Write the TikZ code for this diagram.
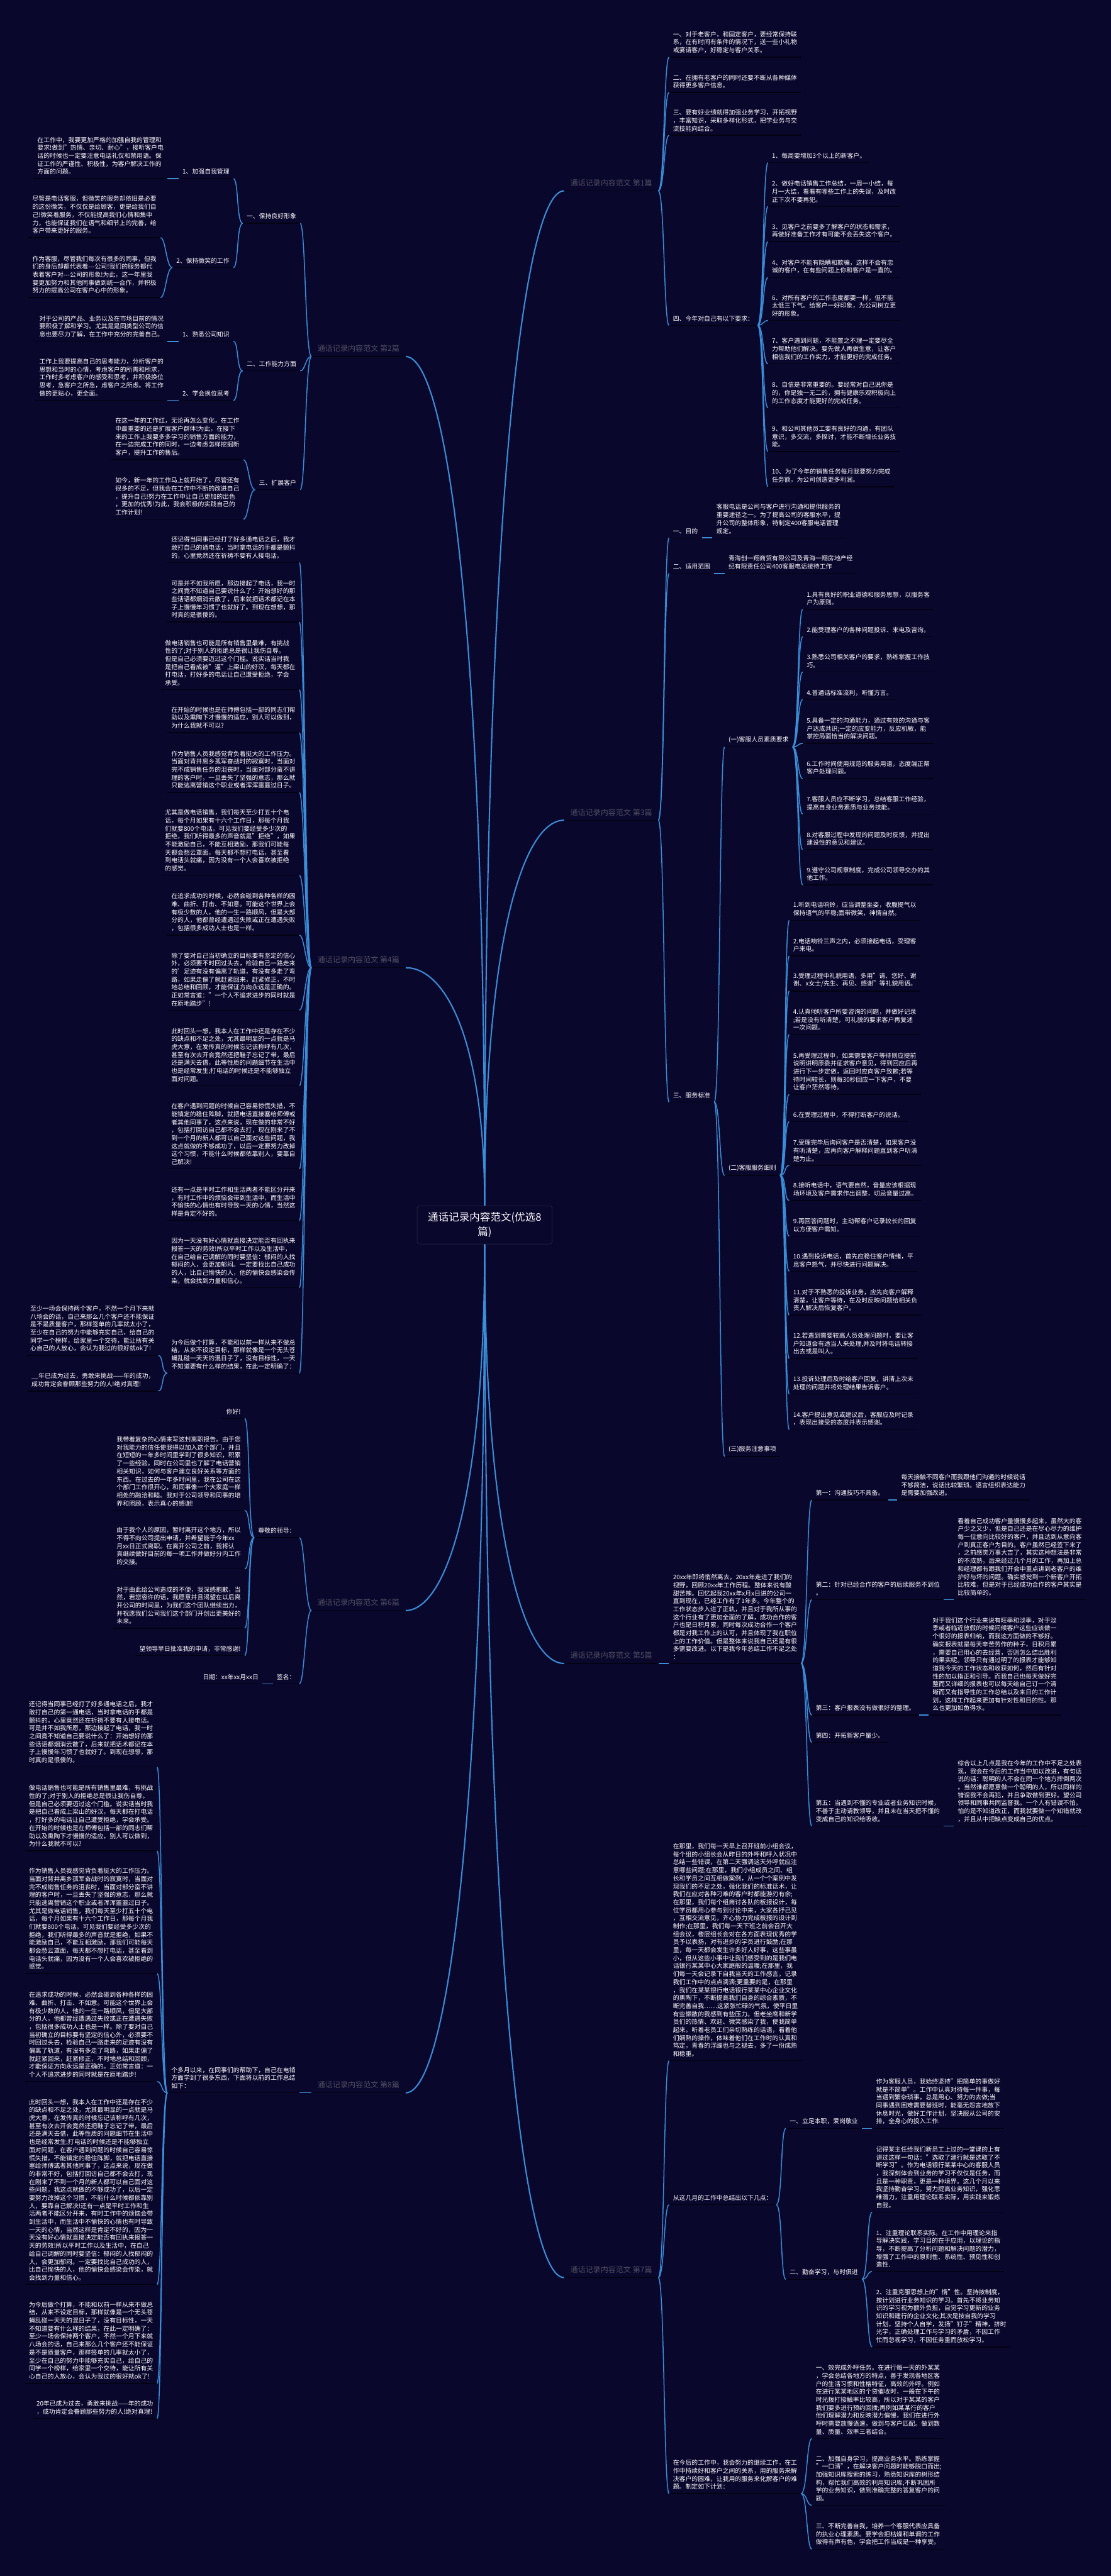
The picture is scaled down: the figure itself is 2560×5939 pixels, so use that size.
\documentclass[tikz,border=0pt]{standalone}
\usepackage{fontspec}
\setmainfont{Noto Sans CJK SC}
\usetikzlibrary{calc}
\definecolor{bgc}{RGB}{10,7,45}
\definecolor{linkblue}{RGB}{58,142,216}
\definecolor{ulinec}{RGB}{2,2,16}
\definecolor{branchgray}{RGB}{78,78,95}
\definecolor{rootline}{RGB}{30,28,62}
\tikzset{
    uline/.style={draw=ulinec, line width=2pt},  % 文字下方的深色横线
    leaf/.style={
        anchor=south west,        % 以下划线左端定位
        inner xsep=9pt,
        inner ysep=9pt,
        align=left,
        text=white,
        font=\fontsize{14.3pt}{18.4pt}\selectfont,
        append after command={(\tikzlastnode.south west) edge[uline] (\tikzlastnode.south east)}
    },
    leafl/.style={leaf, anchor=south east},  % 左侧分支：以下划线右端定位
    branch/.style={
        anchor=south west,
        minimum width=217pt,
        inner ysep=10pt,
        text=branchgray,          % 篇名为暗灰色
        font=\fontsize{17.5pt}{20pt}\selectfont,
        append after command={(\tikzlastnode.south west) edge[uline] (\tikzlastnode.south east)}
    },
    branchl/.style={branch, anchor=south east},
    rootbox/.style={
        rectangle,
        rounded corners=5pt,
        draw=rootline,
        line width=1.5pt,
        fill=bgc,
        minimum width=311pt,
        minimum height=88pt,
        align=center,
        text=white,
        font=\fontsize{24pt}{33pt}\selectfont
    }
}
\begin{document}
\begin{tikzpicture}[
    x=1pt, y=-1pt,
    link/.style={draw=linkblue, line width=2.2pt},
    trunk/.style={draw=linkblue, line width=3pt,
        to path={let \p1=(\tikztostart), \p2=(\tikztotarget) in
            .. controls (\x1,{\y2+0.3*(\y1-\y2)}) and ({\x1+0.5*(\x2-\x1)},\y2) .. (\tikztotarget)}},
    rbr/.style={to path={.. controls ($(\tikztostart)+(14,0)$) and ($(\tikztotarget)+(-12,0)$) .. (\tikztotarget)}},
    lbr/.style={to path={.. controls ($(\tikztostart)+(-14,0)$) and ($(\tikztotarget)+(12,0)$) .. (\tikztotarget)}}
  ]
\fill[bgc] (0,0) rectangle (2560,5939);
\useasboundingbox (0,0) rectangle (2560,5939);

\node[rootbox] (title) at (1117,2824) {通话记录内容范文(优选8\\篇)};

% 右侧
\node[branch] (pian1) at (1300,440) {通话记录内容范文 第1篇};
\node[branch] (pian3) at (1300,1891) {通话记录内容范文 第3篇};
\node[branch] (pian5) at (1300,3835) {通话记录内容范文 第5篇};
\node[branch] (pian7) at (1300,5251) {通话记录内容范文 第7篇};
% 左侧
\node[branchl] (pian2) at (935,822) {通话记录内容范文 第2篇};
\node[branchl] (pian4) at (935,2231) {通话记录内容范文 第4篇};
\node[branchl] (pian6) at (935,3713) {通话记录内容范文 第6篇};
\node[branchl] (pian8) at (935,4825) {通话记录内容范文 第8篇};

% 第1篇
\node[leaf] (a1) at (1542,132) {一、对于老客户，和固定客户，要经常保持联\\系，在有时间有条件的情况下，送一些小礼物\\或宴请客户，好稳定与客户关系。};
\node[leaf] (a2) at (1542,213) {二、在拥有老客户的同时还要不断从各种媒体\\获得更多客户信息。};
\node[leaf] (a3) at (1542,312) {三、要有好业绩就得加强业务学习，开拓视野\\，丰富知识，采取多样化形式，把学业务与交\\流技能向结合。};
\node[leaf] (a4) at (1542,750) {四、今年对自己有以下要求：};
\node[leaf] (b1) at (1770,375) {1、每周要增加3个以上的新客户。};
\node[leaf] (b2) at (1770,476) {2、做好电话销售工作总结，一周一小结，每\\月一大结，看看有哪些工作上的失误，及时改\\正下次不要再犯。};
\node[leaf] (b3) at (1770,557) {3、见客户之前要多了解客户的状态和需求，\\再做好准备工作才有可能不会丢失这个客户。};
\node[leaf] (b4) at (1770,640) {4、对客户不能有隐瞒和欺骗，这样不会有忠\\诚的客户，在有些问题上你和客户是一直的。};
\node[leaf] (b5) at (1770,739) {6、对所有客户的工作态度都要一样，但不能\\太低三下气。给客户一好印象，为公司树立更\\好的形象。};
\node[leaf] (b6) at (1770,839) {7、客户遇到问题，不能置之不理一定要尽全\\力帮助他们解决。要先做人再做生意，让客户\\相信我们的工作实力，才能更好的完成任务。};
\node[leaf] (b7) at (1770,940) {8、自信是非常重要的。要经常对自己说你是\\的，你是独一无二的，拥有健康乐观积极向上\\的工作态度才能更好的完成任务。};
\node[leaf] (b8) at (1770,1041) {9、和公司其他员工要有良好的沟通，有团队\\意识，多交流，多探讨，才能不断增长业务技\\能。};
\node[leaf] (b9) at (1770,1122) {10、为了今年的销售任务每月我要努力完成\\任务额，为公司创造更多利润。};

% 第3篇
\node[leaf] (c1) at (1542,1240) {一、目的};
\node[leaf] (c1a) at (1642,1240) {客服电话是公司与客户进行沟通和提供服务的\\重要途径之一。为了提高公司的客服水平，提\\升公司的整体形象，特制定400客服电话管理\\规定。};
\node[leaf] (c2) at (1542,1322) {二、适用范围};
\node[leaf] (c2a) at (1670,1322) {青海创一翔商贸有限公司及青海一翔房地产经\\纪有限责任公司400客服电话接待工作};
\node[leaf] (c3) at (1542,2541) {三、服务标准};
\node[leaf] (d1) at (1670,1722) {(一)客服人员素质要求};
\node[leaf] (d2) at (1670,2710) {(二)客服服务细则};
\node[leaf] (d3) at (1670,3358) {(三)服务注意事项};
\node[leaf] (e1) at (1850,1405) {1.具有良好的职业道德和服务思想，以服务客\\户为原则。};
\node[leaf] (e2) at (1850,1468) {2.能受理客户的各种问题投诉、来电及咨询。};
\node[leaf] (e3) at (1850,1549) {3.熟悉公司相关客户的要求，熟练掌握工作技\\巧。};
\node[leaf] (e4) at (1850,1613) {4.普通话标准流利，听懂方言。};
\node[leaf] (e5) at (1850,1714) {5.具备一定的沟通能力，通过有效的沟通与客\\户达成共识;一定的应变能力，反应机敏，能\\掌控局面恰当的解决问题。};
\node[leaf] (e6) at (1850,1795) {6.工作时间使用规范的服务用语，态度端正帮\\客户处理问题。};
\node[leaf] (e7) at (1850,1877) {7.客服人员应不断学习，总结客服工作经验，\\提高自身业务素质与业务技能。};
\node[leaf] (e8) at (1850,1959) {8.对客服过程中发现的问题及时反馈，并提出\\建设性的意见和建议。};
\node[leaf] (e9) at (1850,2040) {9.遵守公司规章制度，完成公司领导交办的其\\他工作。};
\node[leaf] (f1) at (1819,2122) {1.听到电话响铃，应当调整坐姿，收腹提气以\\保持语气的平稳;面带微笑，神情自然。};
\node[leaf] (f2) at (1819,2204) {2.电话响铃三声之内，必须接起电话，受理客\\户来电。};
\node[leaf] (f3) at (1819,2285) {3.受理过程中礼貌用语，多用"请、您好、谢\\谢、x女士/先生、再见、感谢"等礼貌用语。};
\node[leaf] (f4) at (1819,2385) {4.认真倾听客户所要咨询的问题，并做好记录\\;若是没有听清楚，可礼貌的要求客户再复述\\一次问题。};
\node[leaf] (f5) at (1819,2523) {5.再受理过程中，如果需要客户等待则应提前\\说明讲明原委并征求客户意见，得到回应后再\\进行下一步定做，返回时应向客户致歉;若等\\待时间较长，则每30秒回应一下客户，不要\\让客户茫然等待。};
\node[leaf] (f6) at (1819,2586) {6.在受理过程中，不得打断客户的说话。};
\node[leaf] (f7) at (1819,2687) {7.受理完毕后询问客户是否清楚，如果客户没\\有听清楚，应再向客户解释问题直到客户听清\\楚为止。};
\node[leaf] (f8) at (1819,2768) {8.接听电话中，语气要自然，音量应该根据现\\场环境及客户需求作出调整，切忌音量过高。};
\node[leaf] (f9) at (1819,2850) {9.再回答问题时，主动帮客户记录较长的回复\\以方便客户需知。};
\node[leaf] (f10) at (1819,2931) {10.遇到投诉电话，首先应稳住客户情绪，平\\息客户怒气，并尽快进行问题解决。};
\node[leaf] (f11) at (1819,3032) {11.对于不熟悉的投诉业务，应先向客户解释\\清楚，让客户等待，在及时反映问题给相关负\\责人解决后恢复客户。};
\node[leaf] (f12) at (1819,3132) {12.若遇到需要较高人员处理问题时，要让客\\户知道会有适当人来处理,并及时将电话转接\\出去或是叫人。};
\node[leaf] (f13) at (1819,3214) {13.投诉处理后及时给客户回复，讲清上次未\\处理的问题并将处理结果告诉客户。};
\node[leaf] (f14) at (1819,3296) {14.客户提出意见或建议后，客服应及时记录\\，表现出接受的态度并表示感谢。};

% 第5篇
\node[leaf] (g) at (1542,3835) {20xx年即将悄然离去，20xx年走进了我们的\\视野，回顾20xx年工作历程。整体来说有酸\\甜苦辣。回忆起我20xx年x月x日进的公司一\\直到现在，已经工作有了1年多。今年整个的\\工作状态步入进了正轨，并且对于我所从事的\\这个行业有了更加全面的了解，成功合作的客\\户也是日积月累，同时每次成功合作一个客户\\都是对我工作上的认可，并且体现了我在职位\\上的工作价值。但是整体来说我自己还是有很\\多需要改进。以下是我今年总结工作不足之处\\：};
\node[leaf] (h1) at (1871,3458) {第一：沟通技巧不具备。};
\node[leaf] (h1a) at (2068,3458) {每天接触不同客户而我跟他们沟通的时候说话\\不够简洁，说话比较繁琐。语言组织表达能力\\是需要加强改进。};
\node[leaf] (h2) at (1871,3688) {第二：针对已经合作的客户的后续服务不到位\\。};
\node[leaf] (h2a) at (2198,3688) {看着自己成功客户量慢慢多起来，虽然大的客\\户少之又少，但是自己还是在尽心尽力的维护\\每一位意向比较好的客户，并且达到从意向客\\户到真正客户为目的。客户虽然已经签下来了\\，之前感觉万事大吉了，其实这种想法是非常\\的不成熟，后来经过几个月的工作，再加上总\\和经理都有跟我们开会中重点讲到老客户的维\\护好与坏的问题。确实感觉到一个新客户开拓\\比较难，但是对于已经成功合作的客户其实是\\比较简单的。};
\node[leaf] (h3) at (1871,3954) {第三：客户报表没有做很好的整理。};
\node[leaf] (h3a) at (2140,3954) {对于我们这个行业来说有旺季和淡季，对于淡\\季或者临近放假的时候问候客户这些应该做一\\个很好的报表归纳，而我这方面做的不够好。\\确实报表就是每天辛苦劳作的种子，日积月累\\，需要自己用心的去经营，否则怎么结出胜利\\的果实呢。领导只有通过明了的报表才能够知\\道我今天的工作状态和收获如何，然后有针对\\性的加以指正和引导。而我自己也每天做好完\\整而又详细的报表也可以每天给自己订一个清\\晰而又有指导性的工作总结以及来日的工作计\\划，这样工作起来更加有针对性和目的性。那\\么也更加如鱼得水。};
\node[leaf] (h4) at (1871,4017) {第四：开拓新客户量少。};
\node[leaf] (h5) at (1871,4210) {第五：当遇到不懂的专业或者业务知识时候，\\不善于主动请教领导，并且未在当天把不懂的\\变成自己的知识给吸收。};
\node[leaf] (h5a) at (2198,4210) {综合以上几点是我在今年的工作中不足之处表\\现，我会在今后的工作当中加以改进，有句话\\说的话：聪明的人不会在同一个地方摔倒两次\\。当然谁都愿意做一个聪明的人，所以同样的\\错误我不会再犯，并且争取做到更好。望公司\\领导和同事共同监督我。一个人有错误不怕，\\怕的是不知道改正，而我就要做一个知错就改\\，并且从中把缺点变成自己的优点。};

% 第7篇
\node[leaf] (k1) at (1542,4751) {在那里，我们每一天早上召开班前小组会议，\\每个组的小组长会从昨日的外呼和呼入状况中\\总结一些错误，在第二天强调这天外呼就应注\\意哪些问题;在那里，我们小组成员之间、组\\长和学员之间互相做案例，从一个个案例中发\\现我们的不足之处，强化我们的标准话术，让\\我们在应对各种刁难的客户时都能游刃有余;\\在那里，我们每个组商讨各队的板报设计，每\\位学员都用心参与到讨论中来，大家各抒己见\\，互相交流意见，齐心协力完成板报的设计到\\制作;在那里，我们每一天下班之前会召开大\\组会议，楼层组长会对在各方面表现优秀的学\\员予以表扬，对有进步的学员进行鼓励;在那\\里，每一天都会发生许多好人好事，这些事虽\\小，但从这些小事中让我们感受到的是我们电\\话银行某某中心大家庭般的温暖;在那里，我\\们每一天会记录下自我当天的工作感言，记录\\我们工作中的点点滴滴;更重要的是，在那里\\，我们在某某银行电话银行某某中心企业文化\\的熏陶下，不断提高我们自身的综合素质，不\\断完善自我……这紧张忙碌的气氛，使平日里\\有些懒散的我感到有些压力。但老坐席和新学\\员们的热情、欢迎、微笑感染了我，使我简单\\起来。听着老员工们亲切熟练的话语，看着他\\们娴熟的操作，体味着他们在工作时的认真和\\笃定，青春的浮躁也与之褪去，多了一份成熟\\和稳重。};
\node[leaf] (k2) at (1542,5083) {从这几月的工作中总结出以下几点：};
\node[leaf] (m1) at (1811,4907) {一、立足本职，爱岗敬业};
\node[leaf] (m1a) at (2010,4907) {作为客服人员，我始终坚持"把简单的事做好\\就是不简单"。工作中认真对待每一件事，每\\当遇到繁杂琐事，总是用心、努力的去做;当\\同事遇到困难需要替班时，能毫无怨言地放下\\休息时光，做好工作计划，坚决服从公司的安\\排，全身心的投入工作.};
\node[leaf] (m2) at (1811,5255) {二、勤奋学习，与时俱进};
\node[leaf] (n1) at (2010,5100) {记得某主任给我们新员工上过的一堂课的上有\\讲过这样一句话："选取了建行就是选取了不\\断学习"。作为电话银行某某中心的客服人员\\，我深刻体会到业务的学习不仅仅是任务，而\\且是一种职责，更是一种境界。这几个月以来\\我坚持勤奋学习，努力提高业务知识，强化思\\维潜力，注重用理论联系实际，用实践来锻炼\\自我。};
\node[leaf] (n2) at (2010,5237) {1、注重理论联系实际。在工作中用理论来指\\导解决实践，学习目的在于应用，以理论的指\\导，不断提高了分析问题和解决问题的潜力，\\增强了工作中的原则性、系统性、预见性和创\\造性.};
\node[leaf] (n3) at (2010,5411) {2、注重克服思想上的"惰"性。坚持按制度，\\按计划进行业务知识的学习。首先不将业务知\\识的学习视为额外负担，自觉学习更新的业务\\知识和建行的企业文化;其次是按自我的学习\\计划，坚持个人自学，发扬"钉子"精神，挤时\\光学，正确处理工作与学习的矛盾，不因工作\\忙而忽视学习，不因任务重而放松学习。};
\node[leaf] (k3) at (1542,5749) {在今后的工作中，我会努力的继续工作，在工\\作中持续好和客户之间的关系，用的服务来解\\决客户的困难，让我用的服务来化解客户的难\\题。制定如下计划：};
\node[leaf] (p1) at (1871,5622) {一、效完成外呼任务。在进行每一天的外某某\\，学会总结各地方的特点，善于发现各地区客\\户的生活习惯和性格特征，高效的外呼。例如\\在进行某某地区的个贷催收时，一般在下午的\\时光拨打接触率比较高，所以对于某某的客户\\我们要多进行预约回拨;再例如某某行的客户\\他们理解潜力和反映潜力偏慢，我们在进行外\\呼时需要放慢语速，做到与客户匹配。做到数\\量、质量、效率三者结合。};
\node[leaf] (p2) at (1871,5776) {二、加强自身学习，提高业务水平。熟练掌握\\"一口清"，在解决客户问题时能够脱口而出;\\加强知识库搜索的练习，熟悉知识库的树形结\\构，帮忙我们高效的利用知识库;不断巩固所\\学的业务知识，做到准确完整的答复客户的问\\题。};
\node[leaf] (p3) at (1871,5877) {三、不断完善自我，培养一个客服代表应具备\\的执业心理素质。要学会把枯燥和单调的工作\\做得有声有色，学会把工作当成是一种享受。};

% 第2篇
\node[leafl] (q1) at (692,515) {一、保持良好形象};
\node[leafl] (r1) at (538,412) {1、加强自我管理};
\node[leafl] (r1a) at (386,412) {在工作中，我要更加严格的加强自我的管理和\\要求!做到"热情、亲切、耐心"，接听客户电\\话的时候也一定要注意电话礼仪和禁用语。保\\证工作的严谨性、积极性，为客户解决工作的\\方面的问题。};
\node[leafl] (r2) at (538,617) {2、保持微笑的工作};
\node[leafl] (s1) at (370,548) {尽管是电话客服，但微笑的服务却依旧是必要\\的这份微笑，不仅仅是给顾客，更是给我们自\\己!微笑着服务，不仅能提高我们心情和集中\\力，也能保证我们在语气和细节上的完善，给\\客户带来更好的服务。};
\node[leafl] (s2) at (370,686) {作为客服，尽管我们每次有很多的同事，但我\\们的身后却都代表着-{}-{}-公司!我们的服务都代\\表着客户对-{}-{}-公司的形象!为此，这一年里我\\要更加努力和其他同事做到统一合作，并积极\\努力的提高公司在客户心中的形象。};
\node[leafl] (q2) at (692,855) {二、工作能力方面};
\node[leafl] (t1) at (538,787) {1、熟悉公司知识};
\node[leafl] (t1a) at (386,787) {对于公司的产品、业务以及在市场目前的情况\\要积极了解和学习。尤其是是同类型公司的信\\息也要尽力了解，在工作中充分的完善自己。};
\node[leafl] (t2) at (538,923) {2、学会换位思考};
\node[leafl] (t2a) at (386,923) {工作上我要提高自己的思考能力，分析客户的\\思想和当时的心情，考虑客户的所需和所求，\\工作时多考虑客户的感受和思考，并积极换位\\思考，急客户之所急，虑客户之所虑。将工作\\做的更贴心，更全面。};
\node[leafl] (q3) at (692,1129) {三、扩展客户};
\node[leafl] (u1) at (561,1060) {在这一年的工作红，无论再怎么变化，在工作\\中最重要的还是扩展客户群体!为此，在接下\\来的工作上我要多多学习的销售方面的能力，\\在一边完成工作的同时，一边考虑怎样挖掘新\\客户，提升工作的售后。};
\node[leafl] (u2) at (561,1197) {如今，新一年的工作马上就开始了，尽管还有\\很多的不足，但我会在工作中不断的改进自己\\，提升自己!努力在工作中让自己更加的出色\\，更加的优秀!为此，我会积极的实践自己的\\工作计划!};

% 第4篇
\node[leafl] (v1) at (690,1297) {还记得当同事已经打了好多通电话之后，我才\\敢打自己的通电话，当时拿电话的手都是颤抖\\的，心里竟然还在祈祷不要有人接电话。};
\node[leafl] (v2) at (690,1434) {可是并不如我所愿，那边接起了电话，我一时\\之间竟不知道自己要说什么了：开始想好的那\\些话语都烟消云散了，后来就把话术都记在本\\子上慢慢年习惯了也就好了。到现在想想，那\\时真的是很傻的。};
\node[leafl] (v3) at (690,1590) {做电话销售也可能是所有销售里最难，有挑战\\性的了;对于别人的拒绝总是很让我伤自尊。\\但是自己必须要迈过这个门槛。说实话当时我\\是把自己看成被"逼"上梁山的好汉，每天都在\\打电话，打好多的电话让自己遭受拒绝，学会\\承受。};
\node[leafl] (v4) at (690,1689) {在开始的时候也是在师傅包括一部的同志们帮\\助以及熏陶下才慢慢的适应，别人可以做到，\\为什么我就不可以?};
\node[leafl] (v5) at (690,1827) {作为销售人员我感觉背负着挺大的工作压力。\\当面对背井离乡孤军奋战时的寂寞时，当面对\\完不成销售任务的沮丧时，当面对部分蛮不讲\\理的客户时，一旦丢失了坚强的意志，那么就\\只能逃离营销这个职业或者浑浑噩噩过日子。};
\node[leafl] (v6) at (690,2018) {尤其是做电话销售，我们每天至少打五十个电\\话，每个月如果有十六个工作日，那每个月我\\们就要800个电话。可见我们要经受多少次的\\拒绝，我们听得最多的声音就是"拒绝"，如果\\不能激励自己，不能互相激励，那我们可能每\\天都会愁云罩面，每天都不想打电话，甚至看\\到电话头就痛，因为没有一个人会喜欢被拒绝\\的感觉。};
\node[leafl] (v7) at (690,2156) {在追求成功的时候，必然会碰到各种各样的困\\难、曲折、打击、不如意。可能这个世界上会\\有极少数的人，他的一生一路顺风，但是大部\\分的人，他都曾经遭遇过失败或正在遭遇失败\\，包括很多成功人士也是一样。};
\node[leafl] (v8) at (690,2329) {除了要对自己当初确立的目标要有坚定的信心\\外，必须要不时回过头去，检验自己一路走来\\的'足迹有没有偏离了轨道，有没有多走了弯\\路，如果走偏了就赶紧回来，赶紧修正，不时\\地总结和回顾，才能保证方向永远是正确的。\\正如常言道："一个人不追求进步的同时就是\\在原地踏步"!};
\node[leafl] (v9) at (690,2503) {此时回头一想，我本人在工作中还是存在不少\\的缺点和不足之处，尤其最明显的一点就是马\\虎大意，在发传真的时候忘记该称呼有几次，\\甚至有次去开会竟然还把鞋子忘记了带，最后\\还是满天去借，此等性质的问题细节在生活中\\也是经常发生;打电话的时候还是不能够独立\\面对问题。};
\node[leafl] (v10) at (690,2695) {在客户遇到问题的时候自己容易惊慌失措，不\\能镇定的稳住阵脚，就把电话直接塞给师傅或\\者其他同事了，这点来说，现在做的非常不好\\，包括打回访自己都不会去打，现在刚来了不\\到一个月的新人都可以自己面对这些问题，我\\这点就做的不够成功了，以后一定要努力改掉\\这个习惯，不能什么时候都依靠别人，要靠自\\己解决!};
\node[leafl] (v11) at (690,2814) {还有一点是平时工作和生活两者不能区分开来\\，有时工作中的烦恼会带到生活中，而生活中\\不愉快的心情也有时导致一天的心情，当然这\\样是肯定不好的。};
\node[leafl] (v12) at (690,2969) {因为一天没有好心情就直接决定能否有回执来\\报答一天的劳效!所以平时工作以及生活中，\\在自己给自己调解的同时要坚信：郁闷的人找\\郁闷的人，会更加郁闷。一定要找比自己成功\\的人，比自己愉快的人，他的愉快会感染会传\\染，就会找到力量和信心。};
\node[leafl] (v13) at (690,3166) {为今后做个打算，不能和以前一样从来不做总\\结，从来不设定目标，那样就像是一个无头苍\\蝇乱碰一天天的混日子了，没有目标性，一天\\不知道要有什么样的结果，在此一定明确了：};
\node[leafl] (w1) at (365,3125) {至少一场会保持两个客户，不然一个月下来就\\八场会的话，自己来那么几个客户还不能保证\\是不是质量客户，那样签单的几率就太小了，\\至少在自己的努力中能够充实自己，给自己的\\同学一个榜样，给家里一个交待，能让所有关\\心自己的人放心，会认为我过的很好就ok了!};
\node[leafl] (w2) at (365,3207) {\_\_年已成为过去，勇敢来挑战——年的成功，\\成功肯定会眷顾那些努力的人!绝对真理!};

% 第6篇
\node[leafl] (x1) at (690,3545) {尊敬的领导：};
\node[leafl] (y1) at (564,3270) {你好!};
\node[leafl] (y2) at (564,3482) {我带着复杂的心情来写这封离职报告。由于您\\对我能力的信任使我得以加入这个部门，并且\\在短短的一年多时间里学到了很多知识，积累\\了一些经验。同时在公司里也了解了电话营销\\相关知识，如何与客户建立良好关系等方面的\\东西。在过去的一年多时间里，我在公司在这\\个部门工作很开心，和同事像一个大家庭一样\\相处的融洽和睦。我对于公司领导和同事的培\\养和照顾，表示真心的感谢!};
\node[leafl] (y3) at (564,3617) {由于我个人的原因，暂时离开这个地方，所以\\不得不向公司提出申请，并希望能于今年xx\\月xx日正式离职。在离开公司之前，我将认\\真继续做好目前的每一项工作并做好分内工作\\的交接。};
\node[leafl] (y4) at (564,3754) {对于由此给公司造成的不便，我深感抱歉，当\\然，若您容许的话，我愿意并且渴望在以后离\\开公司的时间里，为我们这个团队继续出力，\\并祝愿我们公司我们这个部门开创出更美好的\\未来。};
\node[leafl] (y5) at (564,3817) {望领导早日批准我的申请，非常感谢!};
\node[leafl] (x2) at (690,3882) {签名：};
\node[leafl] (x2a) at (605,3882) {日期：xx年xx月xx日};

% 第8篇
\node[leafl] (z) at (690,4825) {个多月以来，在同事们的帮助下，自己在电销\\方面学到了很多东西，下面将以前的工作总结\\如下：};
\node[leafl] (z1) at (362,4074) {还记得当同事已经打了好多通电话之后，我才\\敢打自己的第一通电话，当时拿电话的手都是\\颤抖的，心里竟然还在祈祷不要有人接电话。\\可是并不如我所愿，那边接起了电话，我一时\\之间竟不知道自己要说什么了：开始想好的那\\些话语都烟消云散了，后来就把话术都记在本\\子上慢慢年习惯了也就好了。到现在想想，那\\时真的是很傻的。};
\node[leafl] (z2) at (362,4267) {做电话销售也可能是所有销售里最难，有挑战\\性的了;对于别人的拒绝总是很让我伤自尊。\\但是自己必须要迈过这个门槛。说实话当时我\\是把自己看成上梁山的好汉，每天都在打电话\\，打好多的电话让自己遭受拒绝，学会承受。\\在开始的时候也是在师傅包括一部的同志们帮\\助以及熏陶下才慢慢的适应，别人可以做到，\\为什么我就不可以?};
\node[leafl] (z3) at (362,4550) {作为销售人员我感觉背负着挺大的工作压力。\\当面对背井离乡孤军奋战时的寂寞时，当面对\\完不成销售任务的沮丧时，当面对部分蛮不讲\\理的客户时，一旦丢失了坚强的意志，那么就\\只能逃离营销这个职业或者浑浑噩噩过日子。\\尤其是做电话销售，我们每天至少打五十个电\\话，每个月如果有十六个工作日，那每个月我\\们就要800个电话。可见我们要经受多少次的\\拒绝，我们听得最多的声音就是拒绝，如果不\\能激励自己，不能互相激励，那我们可能每天\\都会愁云罩面，每天都不想打电话，甚至看到\\电话头就痛，因为没有一个人会喜欢被拒绝的\\感觉。};
\node[leafl] (z4) at (362,4799) {在追求成功的时候，必然会碰到各种各样的困\\难、曲折、打击、不如意。可能这个世界上会\\有极少数的人，他的一生一路顺风，但是大部\\分的人，他都曾经遭遇过失败或正在遭遇失败\\，包括很多成功人士也是一样。除了要对自己\\当初确立的目标要有坚定的信心外，必须要不\\时回过头去，检验自己一路走来的足迹有没有\\偏离了轨道，有没有多走了弯路，如果走偏了\\就赶紧回来，赶紧修正，不时地总结和回顾，\\才能保证方向永远是正确的。正如常言道：一\\个人不追求进步的同时就是在原地踏步!};
\node[leafl] (z5) at (362,5267) {此时回头一想，我本人在工作中还是存在不少\\的缺点和不足之处，尤其最明显的一点就是马\\虎大意，在发传真的时候忘记该称呼有几次，\\甚至有次去开会竟然还把鞋子忘记了带，最后\\还是满天去借，此等性质的问题细节在生活中\\也是经常发生;打电话的时候还是不能够独立\\面对问题，在客户遇到问题的时候自己容易惊\\慌失措，不能镇定的稳住阵脚，就把电话直接\\塞给师傅或者其他同事了，这点来说，现在做\\的非常不好，包括打回访自己都不会去打，现\\在刚来了不到一个月的新人都可以自己面对这\\些问题，我这点就做的不够成功了，以后一定\\要努力改掉这个习惯，不能什么时候都依靠别\\人，要靠自己解决!还有一点是平时工作和生\\活两者不能区分开来，有时工作中的烦恼会带\\到生活中，而生活中不愉快的心情也有时导致\\一天的心情，当然这样是肯定不好的，因为一\\天没有好心情就直接决定能否有回执来报答一\\天的劳效!所以平时工作以及生活中，在自己\\给自己调解的同时要坚信：郁闷的人找郁闷的\\人，会更加郁闷。一定要找比自己成功的人，\\比自己愉快的人，他的愉快会感染会传染，就\\会找到力量和信心。};
\node[leafl] (z6) at (362,5495) {为今后做个打算，不能和以前一样从来不做总\\结，从来不设定目标，那样就像是一个无头苍\\蝇乱碰一天天的混日子了，没有目标性，一天\\不知道要有什么样的结果，在此一定明确了：\\至少一场会保持两个客户，不然一个月下来就\\八场会的话，自己来那么几个客户还不能保证\\是不是质量客户，那样签单的几率就太小了，\\至少在自己的努力中能够充实自己，给自己的\\同学一个榜样，给家里一个交待，能让所有关\\心自己的人放心，会认为我过的很好就ok了!};
\node[leafl] (z7) at (362,5576) {20年已成为过去，勇敢来挑战——年的成功\\，成功肯定会眷顾那些努力的人!绝对真理!};

% 主干
\foreach \b in {pian1,pian3}
  \draw[trunk] (title.north) to (\b.south west);
\foreach \b in {pian2,pian4}
  \draw[trunk] (title.north) to (\b.south east);
\foreach \b in {pian5,pian7}
  \draw[trunk] (title.south) to (\b.south west);
\foreach \b in {pian6,pian8}
  \draw[trunk] (title.south) to (\b.south east);

% 右侧分支连线
\foreach \p/\kids in {pian1/{a1,a2,a3,a4}, a4/{b1,b2,b3,b4,b5,b6,b7,b8,b9},
    pian3/{c1,c2,c3}, c1/c1a, c2/c2a, c3/{d1,d2,d3},
    d1/{e1,e2,e3,e4,e5,e6,e7,e8,e9},
    d2/{f1,f2,f3,f4,f5,f6,f7,f8,f9,f10,f11,f12,f13,f14},
    pian5/g, g/{h1,h2,h3,h4,h5}, h1/h1a, h2/h2a, h3/h3a, h5/h5a,
    pian7/{k1,k2,k3}, k2/{m1,m2}, m1/m1a, m2/{n1,n2,n3}, k3/{p1,p2,p3}}
  \foreach \c in \kids
    \draw[link] (\p.south east) to[rbr] (\c.south west);

% 左侧分支连线
\foreach \p/\kids in {pian2/{q1,q2,q3}, q1/{r1,r2}, r1/r1a, r2/{s1,s2},
    q2/{t1,t2}, t1/t1a, t2/t2a, q3/{u1,u2},
    pian4/{v1,v2,v3,v4,v5,v6,v7,v8,v9,v10,v11,v12,v13}, v13/{w1,w2},
    pian6/{x1,x2}, x1/{y1,y2,y3,y4,y5}, x2/x2a,
    pian8/z, z/{z1,z2,z3,z4,z5,z6,z7}}
  \foreach \c in \kids
    \draw[link] (\p.south west) to[lbr] (\c.south east);
\end{tikzpicture}
\end{document}
